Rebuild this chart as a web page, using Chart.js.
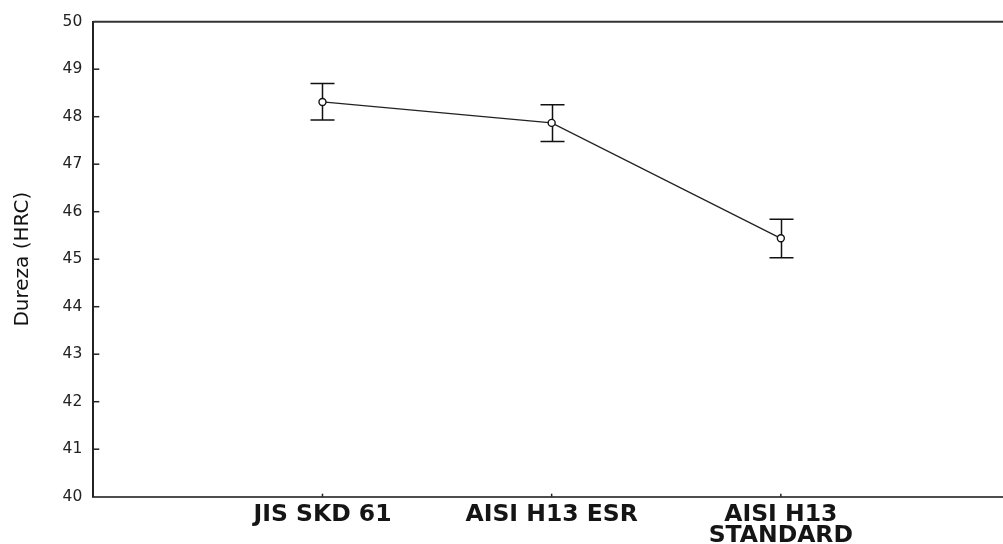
<!DOCTYPE html>
<html>
<head>
<meta charset="utf-8">
<script src="https://cdn.jsdelivr.net/npm/chart.js@4.4.1/dist/chart.umd.min.js"></script>
<style>
  html, body { margin: 0; padding: 0; background: #fff; overflow: hidden; }
  #wrap { position: absolute; left: 0; top: 0; width: 1017px; height: 544px; }
</style>
</head>
<body>
<div id="wrap"><canvas id="c"></canvas></div>
<script>
const categories = [["JIS SKD 61"], ["AISI H13 ESR"], ["AISI H13", "STANDARD"]];
const means = [48.31, 47.87, 45.44];
const upper = [48.70, 48.25, 45.84];
const lower = [47.93, 47.48, 45.03];
const yTicks = [40, 41, 42, 43, 44, 45, 46, 47, 48, 49, 50];
const yTitle = "Dureza (HRC)";

const points = means.map((m, i) => ({ x: i + 1, y: m }));

const decor = {
  id: 'decor',
  beforeDatasetsDraw(chart) {
    const ctx = chart.ctx, xs = chart.scales.x, ys = chart.scales.y;
    ctx.save();
    ctx.strokeStyle = '#111';
    ctx.lineWidth = 1.5;
    for (let i = 0; i < means.length; i++) {
      const x = Math.round(xs.getPixelForValue(i + 1)) + 0.5;
      const yt = ys.getPixelForValue(upper[i]);
      const yb = ys.getPixelForValue(lower[i]);
      ctx.beginPath();
      ctx.moveTo(x, yt); ctx.lineTo(x, yb);
      ctx.moveTo(x - 12, yt); ctx.lineTo(x + 12, yt);
      ctx.moveTo(x - 12, yb); ctx.lineTo(x + 12, yb);
      ctx.stroke();
    }
    ctx.restore();
  },
  afterDraw(chart) {
    const ctx = chart.ctx, xs = chart.scales.x, ys = chart.scales.y, a = chart.chartArea;
    ctx.save();
    ctx.strokeStyle = '#333';
    ctx.lineWidth = 2;
    ctx.beginPath();
    ctx.moveTo(a.left, a.top); ctx.lineTo(a.right + 5, a.top);
    ctx.stroke();
    ctx.strokeStyle = '#222';
    ctx.lineWidth = 1.5;
    yTicks.forEach(v => {
      if (v === yTicks[0] || v === yTicks[yTicks.length - 1]) return;
      const y = ys.getPixelForValue(v);
      ctx.beginPath();
      ctx.moveTo(a.left, y); ctx.lineTo(a.left + 6, y);
      ctx.stroke();
    });
    for (let i = 0; i < categories.length; i++) {
      const x = xs.getPixelForValue(i + 1);
      ctx.beginPath();
      ctx.moveTo(x, a.bottom); ctx.lineTo(x, a.bottom - 3);
      ctx.stroke();
    }
    ctx.restore();
  }
};

new Chart(document.getElementById('c'), {
  type: 'line',
  data: {
    datasets: [{
      data: points,
      borderColor: '#222',
      borderWidth: 1.3,
      pointRadius: 3.5,
      pointHoverRadius: 3.5,
      pointBackgroundColor: '#fff',
      pointBorderColor: '#111',
      pointBorderWidth: 1.4,
      tension: 0
    }]
  },
  options: {
    responsive: true,
    maintainAspectRatio: false,
    animation: false,
    events: [],
    layout: { padding: { left: 0, right: 2, top: 21.7, bottom: 0 } },
    plugins: { legend: { display: false }, tooltip: { enabled: false } },
    scales: {
      x: {
        type: 'linear',
        min: 0,
        max: 4,
        afterFit(s) { s.height = 47.3; },
        afterBuildTicks(s) { s.ticks = [0, 1, 2, 3, 4].map(v => ({ value: v })); },
        ticks: {
          autoSkip: false,
          maxRotation: 0,
          padding: 7,
          color: '#151515',
          font: { family: 'DejaVu Sans', size: 23.5, weight: 'bold', lineHeight: 0.92 },
          callback(v) { return (v >= 1 && v <= categories.length) ? categories[v - 1] : ''; }
        },
        grid: { display: false, drawTicks: false },
        border: { display: true, color: '#4d4d4d', width: 2 }
      },
      y: {
        min: 40,
        max: 50,
        afterFit(s) { s.width = 93.3; },
        afterBuildTicks(s) { s.ticks = yTicks.map(v => ({ value: v })); },
        ticks: {
          padding: 11,
          color: '#222',
          font: { family: 'DejaVu Sans', size: 15.5 }
        },
        grid: { display: false, drawTicks: false },
        border: { display: true, color: '#222', width: 2 },
        title: {
          display: true,
          text: yTitle,
          color: '#111',
          padding: { top: 11, bottom: 0 },
          font: { family: 'DejaVu Sans', size: 20 }
        }
      }
    }
  },
  plugins: [decor]
});
</script>
</body>
</html>
